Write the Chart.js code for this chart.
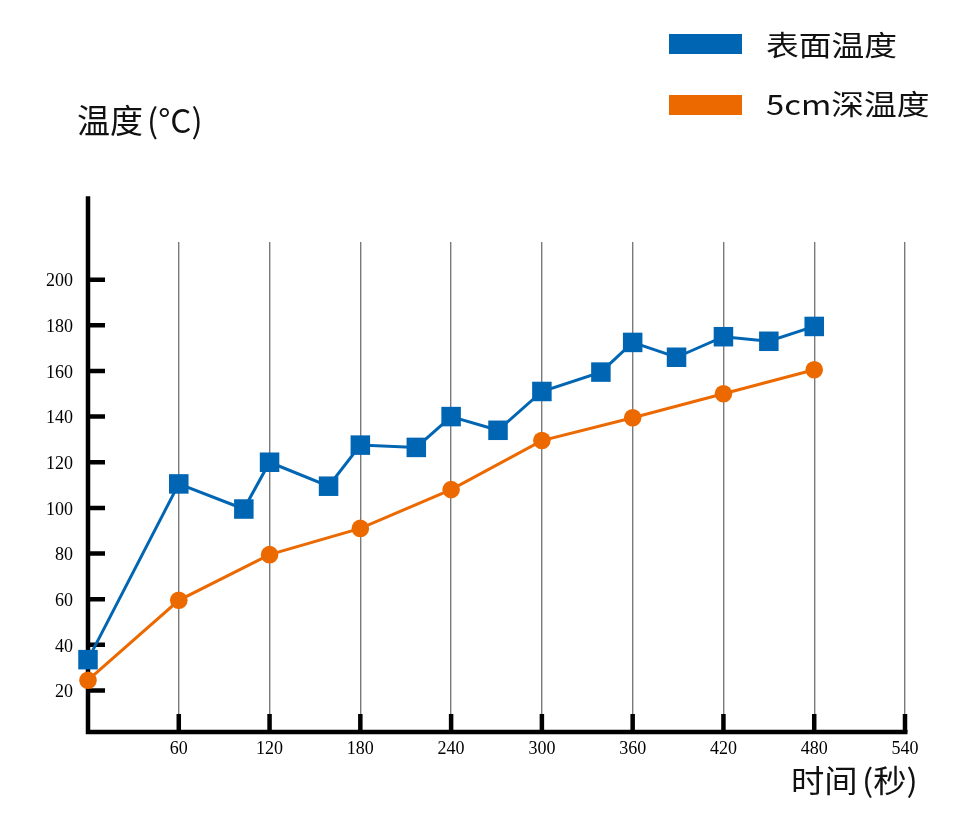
<!DOCTYPE html>
<html>
<head>
<meta charset="utf-8">
<script src="https://cdn.jsdelivr.net/npm/chart.js@4/dist/chart.umd.min.js"></script>
<style>
  body { margin: 0; background: #fff; }
  #wrap { position: relative; width: 958px; height: 824px; }
  .cjk { position: absolute; font-family: "Noto Sans CJK SC", "Noto Sans", sans-serif; color: #111; line-height: 1; white-space: nowrap; transform-origin: left center; }
  .gap { margin-left: 4px; }
  .swatch { position: absolute; width: 73px; height: 20px; }
</style>
</head>
<body>
<div id="wrap">
  <canvas id="chart"></canvas>
  <div class="cjk" style="left:77px; top:103px; font-size:33px;">温度<span class="gap">(°C)</span></div>
  <div class="cjk" style="left:791px; top:763px; font-size:31px; transform:scaleX(1.075);">时间<span class="gap">(秒)</span></div>
  <div class="swatch" id="sw1" style="left:669px; top:34px;"></div>
  <div class="cjk" style="left:766px; top:30px; font-size:28px; transform:scaleX(1.17);">表面温度</div>
  <div class="swatch" id="sw2" style="left:669px; top:95px;"></div>
  <div class="cjk" style="left:766px; top:89px; font-size:28px; transform:scaleX(1.17);">5cm深温度</div>
</div>
<script>
// data
const surfaceTimes = [0, 60, 103, 120, 159, 180, 217, 240, 271, 300, 339, 360, 389, 420, 450, 480];
const surfaceTemps = [33.5, 110.5, 99.5, 120, 109.5, 127.5, 126.5, 140, 134, 151, 159.5, 172.5, 166, 175, 173, 179.5];
const deepTimes = [0, 60, 120, 180, 240, 300, 360, 420, 480];
const deepTemps = [24.5, 59.5, 79.5, 91, 108, 129.5, 139.5, 150, 160.5];
const xTicks = [60, 120, 180, 240, 300, 360, 420, 480, 540];
const yTicks = [20, 40, 60, 80, 100, 120, 140, 160, 180, 200];

const BLUE = '#0066b3';
const ORANGE = '#ec6900';
document.getElementById('sw1').style.background = BLUE;
document.getElementById('sw2').style.background = ORANGE;

// thick black axes with inward ticks
const axesPlugin = {
    id: 'axes',
    beforeDatasetsDraw(chart) {
        const ctx = chart.ctx;
        const xs = chart.scales.x, ys = chart.scales.y;
        const x0 = xs.getPixelForValue(0);
        const yb = ys.getPixelForValue(ys.min);
        const yTop = ys.getPixelForValue(236.5);
        ctx.save();
        ctx.strokeStyle = '#000';
        ctx.lineWidth = 4.5;
        ctx.beginPath();
        ctx.moveTo(x0, yTop);
        ctx.lineTo(x0, yb + 2.25);
        ctx.moveTo(x0, yb);
        ctx.lineTo(xs.getPixelForValue(540) + 2.5, yb);
        ctx.stroke();
        ctx.beginPath();
        yTicks.forEach(v => {
            const p = ys.getPixelForValue(v);
            ctx.moveTo(x0, p);
            ctx.lineTo(x0 + 17, p);
        });
        xTicks.forEach(v => {
            const p = xs.getPixelForValue(v);
            ctx.moveTo(p, yb);
            ctx.lineTo(p, yb - 18);
        });
        ctx.stroke();
        ctx.restore();
    }
};

new Chart(document.getElementById('chart'), {
    type: 'line',
    data: {
        datasets: [{
            label: '表面温度',
            data: surfaceTimes.map((t, i) => ({ x: t, y: surfaceTemps[i] })),
            borderColor: BLUE,
            backgroundColor: BLUE,
            borderWidth: 3,
            pointStyle: 'rect',
            pointRadius: 13.8,
            pointBorderWidth: 0,
            clip: false
        }, {
            label: '5cm深温度',
            data: deepTimes.map((t, i) => ({ x: t, y: deepTemps[i] })),
            borderColor: ORANGE,
            backgroundColor: ORANGE,
            borderWidth: 3,
            pointStyle: 'circle',
            pointRadius: 8.8,
            pointBorderWidth: 0,
            clip: false
        }]
    },
    options: {
        responsive: true,
        maintainAspectRatio: false,
        animation: false,
        layout: { padding: { top: 242, right: 53, left: 0, bottom: 0 } },
        plugins: { legend: { display: false }, tooltip: { enabled: false } },
        scales: {
            x: {
                type: 'linear',
                min: 0,
                max: 540,
                afterBuildTicks: s => { s.ticks = xTicks.map(v => ({ value: v })); },
                afterFit: s => { s.height = 92; },
                grid: { color: '#7a7a7a', lineWidth: 1.4, drawTicks: false },
                border: { display: false },
                ticks: { color: '#000', padding: 6, maxRotation: 0, autoSkip: false,
                         font: { family: 'Liberation Serif', size: 18 } }
            },
            y: {
                min: 1.8,
                max: 216.5,
                afterBuildTicks: s => { s.ticks = yTicks.map(v => ({ value: v })); },
                afterFit: s => { s.width = 88; },
                grid: { display: false, drawTicks: false },
                border: { display: false },
                ticks: { color: '#000', padding: 15, autoSkip: false, labelOffset: 2,
                         font: { family: 'Liberation Serif', size: 18 } }
            }
        }
    },
    plugins: [axesPlugin]
});
</script>
</body>
</html>
